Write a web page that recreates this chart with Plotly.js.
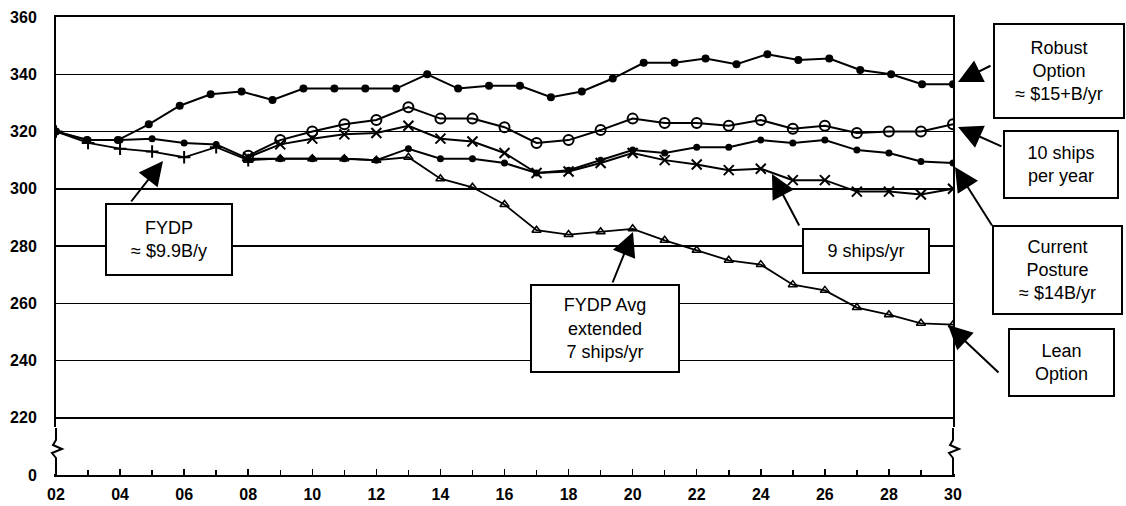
<!DOCTYPE html>
<html><head><meta charset="utf-8">
<script src="https://cdn.plot.ly/plotly-3.0.1.min.js"></script>
<style>html,body{margin:0;padding:0;background:#fff}#chart{width:1126px;height:506px}</style>
</head><body><div id="chart"></div>
<script>
// ---- data ----
const years = [2,3,4,5,6,7,8,9,10,11,12,13,14,15,16,17,18,19,20,21,22,23,24,25,26,27,28,29,30];
const xTickVals = [2,4,6,8,10,12,14,16,18,20,22,24,26,28,30];
const xTickText = ['02','04','06','08','10','12','14','16','18','20','22','24','26','28','30'];
const yTickVals = [200,220,240,260,280,300,320,340,360];
const yTickText = ['0','220','240','260','280','300','320','340','360'];

// Robust Option: 30 points spread over the same span (own category axis)
const robustPeriods = [1,2,3,4,5,6,7,8,9,10,11,12,13,14,15,16,17,18,19,20,21,22,23,24,25,26,27,28,29,30];
const robust = [320,317,317,322.5,329,333,334,331,335,335,335,335,340,335,336,336,332,334,338.5,344,344,345.5,343.5,347,345,345.5,341.5,340,336.5,336.5];

// FYDP (~$9.9B/y) early years
const fydpYears = [2,3,4,5,6,7,8];
const fydp = [320,316,314,313,311,314.5,310];

// Current Posture
const current = [320,317,317,317.5,316,315.5,310.5,310.5,310.5,310.5,310,314,310.5,310.5,309,305.5,306.5,310,313.5,312.5,314.5,314.5,317,316,317,313.5,312.5,309.5,309];

// 10 ships per year, 9 ships/yr, FYDP Avg extended / Lean Option
const laterYears = [8,9,10,11,12,13,14,15,16,17,18,19,20,21,22,23,24,25,26,27,28,29,30];
const tenShips = [311.5,317,320,322.5,324,328.5,324.5,324.5,321.5,316,317,320.5,324.5,323,323,322,324,321,322,319.5,320,320,322.5];
const nineShips = [311,315.5,317.5,319,319.5,322,317.5,316.5,312.5,305.5,306,309,312.5,310,308.5,306.5,307,303,303,299,299,298,300];
const lean = [310,310.5,310.5,310.5,310,311,303.5,300.5,294.5,285.5,284,285,286,282,278.5,275,273.5,266.5,264.5,258.5,256,253,252.5];

// ---- chart ----
const line = {color:'#000', width:2};
const traces = [
  {x: robustPeriods, y: robust, xaxis:'x2', yaxis:'y', mode:'lines+markers', line,
   marker:{symbol:'circle', size:8, color:'#000'}, name:'Robust Option'},
  {x: laterYears, y: tenShips, mode:'lines+markers', line,
   marker:{symbol:'circle-open', size:10, color:'#000', line:{width:2}}, name:'10 ships per year'},
  {x: years, y: current, mode:'lines+markers', line,
   marker:{symbol:'circle', size:7, color:'#000'}, name:'Current Posture'},
  {x: laterYears, y: nineShips, mode:'lines+markers', line,
   marker:{symbol:'x-thin-open', size:10, color:'#000', line:{width:2, color:'#000'}}, name:'9 ships/yr'},
  {x: laterYears, y: lean, mode:'lines+markers', line:{color:'#000', width:1.8},
   marker:{symbol:'triangle-up-open', size:8, color:'#000', line:{width:1.5}}, name:'Lean Option'},
  {x: fydpYears, y: fydp, mode:'lines+markers', line:{color:'#000', width:1.8},
   marker:{symbol:'cross-thin-open', size:9, color:'#000', line:{width:2, color:'#000'}}, name:'FYDP'}
];

const L = 56, R = 953, T = 17, B = 475;
function px(x){ return (x - L) / (R - L); }
function py(y){ return (B - y) / (B - T); }

const annFont = {family:'Liberation Sans, Arial, sans-serif', size:18, color:'#000'};
function box(text, cx, cy, w, h){
  return {xref:'paper', yref:'paper', x:px(cx), y:py(cy), xanchor:'center', yanchor:'middle',
    text, showarrow:false, font:annFont, bgcolor:'#fff', bordercolor:'#000', borderwidth:2,
    borderpad:0, width:w-4, height:h-4, align:'center'};
}
function arrow(tipX, tipY, tailX, tailY){
  return {xref:'paper', yref:'paper', x:px(tipX), y:py(tipY), ax:tailX - tipX, ay:tailY - tipY,
    text:'', showarrow:true, arrowhead:2, arrowsize:2.4, arrowwidth:2, arrowcolor:'#000', standoff:0};
}

const annotations = [
  arrow(163,161,130,203),
  arrow(633,232,612,284),
  arrow(772,174,800,227),
  arrow(958,82,992,65),
  arrow(958,127,1003,147),
  arrow(955,167,993,227),
  arrow(948,325,1000,374),
  box('FYDP<br>≈ $9.9B/y', 169, 239.5, 128, 73),
  box('FYDP Avg<br>extended<br>7 ships/yr', 605, 328.5, 150, 89),
  box('9 ships/yr', 866, 251, 128, 46),
  box('Robust<br>Option<br>≈ $15+B/yr', 1059, 71, 132, 96),
  box('10 ships<br>per year', 1061, 164.5, 116, 69),
  box('Current<br>Posture<br>≈ $14B/yr', 1057.5, 270, 131, 90),
  box('Lean<br>Option', 1061.5, 362.5, 107, 69)
];

// axis-break squiggles (decoration)
function squiggle(xp){
  const dx = 1/(R-L);
  const pts = [[0,428],[0,440],[-3,445],[6,449],[-4,453],[0,458],[0,475]];
  let d = '';
  pts.forEach((p,i)=>{ d += (i? ' L':'M') + (xp + p[0]*dx).toFixed(5) + ',' + py(p[1]).toFixed(5); });
  return d;
}
const shapes = [
  {type:'rect', xref:'paper', yref:'paper', x0:-0.006, x1:0.006, y0:py(474), y1:py(427), fillcolor:'#fff', line:{width:0}, layer:'above'},
  {type:'rect', xref:'paper', yref:'paper', x0:0.994, x1:1.006, y0:py(474), y1:py(427), fillcolor:'#fff', line:{width:0}, layer:'above'},
  {type:'path', xref:'paper', yref:'paper', path:squiggle(0), line:{color:'#000', width:2}, layer:'above'},
  {type:'path', xref:'paper', yref:'paper', path:squiggle(1), line:{color:'#000', width:2}, layer:'above'}
];

const tickFont = {family:'Liberation Sans, Arial, sans-serif', size:16, color:'#000', weight:'bold'};
const layout = {
  width:1126, height:506,
  margin:{l:L, r:1126-R, t:T, b:506-B, pad:0},
  paper_bgcolor:'#fff', plot_bgcolor:'#fff',
  showlegend:false,
  xaxis:{range:[2,30], tickmode:'array', tickvals:xTickVals, ticktext:xTickText,
    ticks:'inside', ticklen:6, tickwidth:1.5, tickcolor:'#000',
    minor:{tickmode:'array', tickvals:years, ticks:'inside', ticklen:5, tickwidth:1.5, tickcolor:'#000'},
    showgrid:false, zeroline:false, showline:true, linecolor:'#000', linewidth:2, mirror:true,
    tickfont:tickFont, ticklabelstandoff:4},
  xaxis2:{range:[1,30], overlaying:'x', visible:false, showgrid:false, zeroline:false},
  yaxis:{range:[200,360], tickmode:'array', tickvals:yTickVals, ticktext:yTickText,
    ticks:'', showgrid:true, gridcolor:'#000', gridwidth:1.5, zeroline:false,
    showline:true, linecolor:'#000', linewidth:2, mirror:true,
    tickfont:tickFont, ticklabelstandoff:14},
  annotations, shapes
};
Plotly.newPlot('chart', traces, layout, {staticPlot:true, displayModeBar:false});
</script></body></html>
